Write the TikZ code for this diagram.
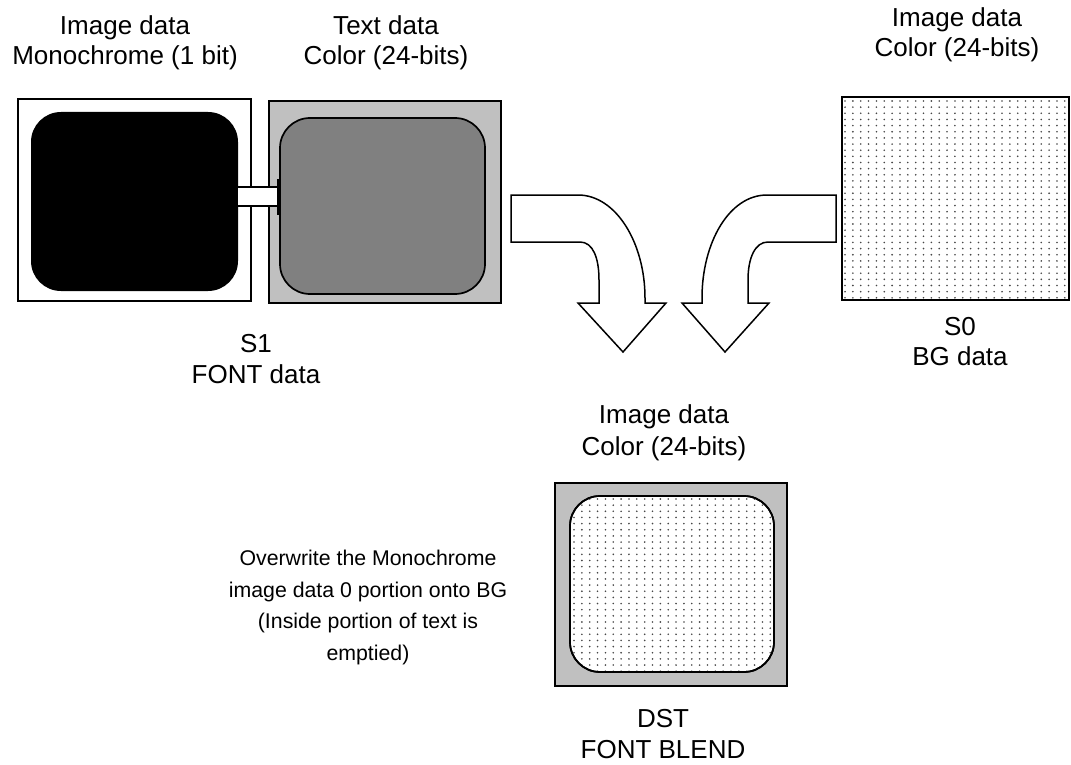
\documentclass[tikz,border=0pt]{standalone}
\usepackage{fontspec}
\setmainfont{Liberation Sans}
\usetikzlibrary{calc}
\definecolor{lgray}{HTML}{C0C0C0}
\definecolor{mgray}{HTML}{808080}
\begin{document}
\begin{tikzpicture}[x=1pt,y=-1pt,
  big/.style={font=\fontsize{26}{30}\selectfont, anchor=base, inner sep=0pt},
  small/.style={font=\fontsize{21.3}{31.5}\selectfont, anchor=base, inner sep=0pt},
  frame/.style={draw=black, line width=1.8pt, rectangle, inner sep=0pt},
  rbox/.style={draw=black, line width=1.7pt, rectangle, rounded corners=30pt, inner sep=0pt},
  bentarrow/.style={draw=black, line width=1.5pt, fill=white, line join=miter},
  dotc/.style={fill=black!72}]
\useasboundingbox (0,0) rectangle (1071,765);
\fill[white] (0,0) rectangle (1071,765);

% ---- S1: monochrome image and text colour
\node[frame, fill=white, minimum width=233pt, minimum height=202pt] (monoOut) at (134.5,200) {};
\node[rectangle, fill=black, rounded corners=30pt, minimum width=207pt, minimum height=179pt, inner sep=0pt] (monoIn) at (134.5,201.5) {};
\node[frame, fill=lgray, minimum width=232pt, minimum height=202pt] (textOut) at (385,202) {};
\node[rbox, fill=mgray, minimum width=205pt, minimum height=176pt] (textIn) at (382.5,206) {};
\fill[white] (monoIn.east |- 0,187) rectangle (textIn.west |- 0,206);
\draw[line width=1.5pt] (monoIn.east |- 0,187) -- (textIn.west |- 0,187);
\draw[line width=1.5pt] (monoIn.east |- 0,206) -- (textIn.west |- 0,206);
\draw[line width=1.5pt] ($(textIn.west |- 0,179)+(-1,0)$) -- ($(textIn.west |- 0,215)+(-1,0)$);

% ---- S0: background
\node[frame, minimum width=227pt, minimum height=203pt] (bg) at (955.5,198.5) {};
\begin{scope}
\clip (bg.south west) rectangle (bg.north east);
\foreach \i in {0,...,29}{\foreach \j in {0,...,33}{
  \fill[dotc] (845+\i*7.85, 101+\j*6.15) circle (0.9pt);}}
\end{scope}
\node[frame, minimum width=227pt, minimum height=203pt] at (bg.center) {};

% ---- DST
\node[frame, fill=lgray, minimum width=232pt, minimum height=203pt] (dstOut) at (671,584.5) {};
\node[rbox, fill=white, minimum width=204pt, minimum height=176pt] (dstIn) at (672,584) {};
\begin{scope}
\clip[rounded corners=30pt] (dstIn.south west) rectangle (dstIn.north east);
\foreach \i in {0,...,26}{\foreach \j in {0,...,29}{
  \fill[dotc] (574+\i*7.85, 499+\j*6.15) circle (0.9pt);}}
\end{scope}
\node[rbox, minimum width=204pt, minimum height=176pt] at (dstIn.center) {};

% ---- bent arrows
\draw[bentarrow] (511,195) -- (578,195) .. controls (616,195) and (645,243) .. (645,298)
  -- (645,303) -- (666,303) -- (623,352) -- (578,303) -- (599,303) -- (599,280)
  .. controls (599,258) and (593,242) .. (580,242) -- (511,242) -- cycle;
\draw[bentarrow] (836,195) -- (767,195) .. controls (729,195) and (702,243) .. (702,298)
  -- (702,303) -- (682,303) -- (725,352) -- (769,303) -- (748,303) -- (748,280)
  .. controls (748,258) and (755,242) .. (768,242) -- (836,242) -- cycle;

% ---- labels
\node[big] (t1a) at (125,35) {Image data};
\node[big] (t1b) at (125,65) {Monochrome (1 bit)};
\node[big] (t2a) at (386,35) {Text data};
\node[big] (t2b) at (386,65) {Color (24-bits)};
\node[big] (t3a) at (957,27) {Image data};
\node[big] (t3b) at (957,57) {Color (24-bits)};
\node[big] (s1a) at (256,352) {S1};
\node[big] (s1b) at (256,383) {FONT data};
\node[big] (s0a) at (960,335) {S0};
\node[big] (s0b) at (960,365) {BG data};
\node[big] (d1a) at (664,423) {Image data};
\node[big] (d1b) at (664,455) {Color (24-bits)};
\node[big] (dsa) at (663,727) {DST};
\node[big] (dsb) at (663,758) {FONT BLEND};
\node[small] (n1) at (368,565) {Overwrite the Monochrome};
\node[small] (n2) at (368,597) {image data 0 portion onto BG};
\node[small] (n3) at (368,628) {(Inside portion of text is};
\node[small] (n4) at (368,660) {emptied)};
\end{tikzpicture}
\end{document}
